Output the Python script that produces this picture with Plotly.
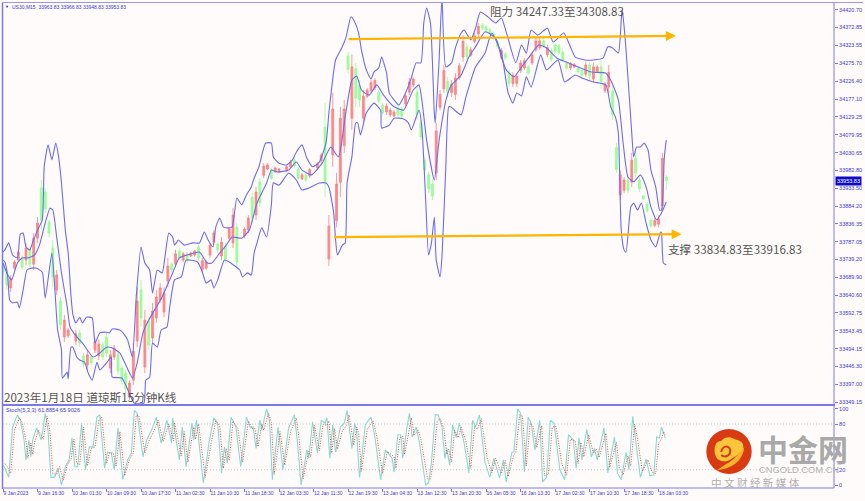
import plotly.graph_objects as go
from plotly.subplots import make_subplots

# ---- candles: bar number (15-minute bars since the first one), open/high/low/close
candle_bar = [0,4,8,12,16,20,24,28,32,36,40,44,48,52,56,60,64,68,76,80,84,88,92,96,100,104,108,112,116,120,124,128,132,136,140,144,148,152,156,160,164,168,172,176,180,184,188,192,196,200,204,208,212,216,220,224,228,232,236,240,244,252,256,260,264,268,272,276,280,284,288,296,300,304,308,312,316,320,328,332,336,340,344,348,352,356,360,364,368,372,376,380,384,388,392,396,400,404,408,412,416,420,424,428,432,436,440,444,448,452,456,460,464,468,472,476,480,484,488,492,496,500,504,508,512,516,520,524,528,532,536,540,544,548,552,556,560,564,568,572,576,580,584,588,592,596,600,604,608,612,616,620,624,628,632,636,640,644,648,652,656,660,664,668,672,676,680,684,688,692]
candle_open = [33726,33702,33661,33715,33737,33746,33737,33765,33726,33797,33934,33923,33841,33770,33655,33625,33527,33530,33516,33538,33475,33450,33472,33491,33475,33505,33527,33442,33472,33480,33442,33428,33363,33409,33516,33655,33445,33570,33524,33579,33628,33595,33680,33726,33726,33762,33737,33754,33748,33751,33773,33712,33715,33751,33786,33781,33748,33775,33797,33784,33827,33803,33819,33909,33860,33950,33969,33986,33984,33978,33978,33981,33992,34011,33986,33959,33970,33967,33989,34008,34100,33740,34025,33845,33950,34050,34295,34125,34260,34215,34125,34185,34200,34208,34196,34160,34142,34134,34131,34153,34150,34164,34196,34216,34196,34112,34010,33970,33945,33975,34155,34205,34225,34195,34190,34235,34292,34320,34297,34335,34355,34380,34374,34366,34355,34333,34290,34300,34248,34220,34220,34255,34262,34265,34276,34312,34318,34336,34298,34310,34325,34322,34305,34276,34262,34265,34262,34256,34245,34270,34232,34253,34265,34200,34210,34200,34045,33915,33928,33956,33950,34015,33956,33913,33890,33846,33832,33835,33885,33964]
candle_high = [33732,33710,33696,33737,33765,33751,33784,33773,33811,33855,33956,33934,33847,33792,33710,33636,33587,33551,33546,33546,33483,33491,33478,33524,33519,33513,33538,33491,33505,33491,33450,33437,33409,33510,33663,33683,33601,33581,33620,33655,33674,33663,33743,33732,33765,33770,33759,33759,33759,33765,33778,33743,33737,33784,33819,33786,33800,33784,33827,33879,33838,33827,33860,33920,33937,33961,34002,34002,33989,33992,33989,33997,34011,34019,33992,33975,33975,33989,34005,34030,34166,33860,34194,33975,34156,34175,34306,34298,34276,34229,34202,34207,34229,34235,34202,34166,34166,34153,34147,34161,34156,34194,34235,34238,34210,34120,34019,33978,33956,34112,34202,34270,34238,34229,34248,34276,34352,34330,34320,34358,34385,34385,34380,34371,34361,34339,34317,34306,34257,34251,34248,34284,34289,34270,34306,34344,34344,34344,34325,34317,34330,34330,34311,34279,34279,34276,34265,34262,34279,34279,34276,34270,34284,34224,34270,34216,34057,33983,33964,33964,34030,34030,33964,33915,33896,33852,33852,33860,34030,33970]
candle_low = [33696,33655,33650,33710,33732,33710,33724,33715,33710,33784,33819,33866,33800,33663,33642,33546,33513,33524,33505,33499,33445,33437,33450,33483,33464,33464,33472,33428,33464,33423,33396,33374,33355,33396,33499,33554,33428,33491,33510,33565,33620,33581,33663,33704,33718,33737,33732,33729,33746,33746,33737,33704,33710,33743,33778,33759,33737,33729,33792,33770,33718,33797,33811,33838,33847,33882,33961,33983,33956,33975,33975,33978,33989,33989,33956,33956,33951,33961,33983,34002,33909,33721,33992,33827,33909,34030,34248,34093,34156,34156,34112,34180,34196,34202,34166,34134,34134,34128,34128,34128,34125,34156,34188,34210,34120,34065,33975,33920,33901,33956,34147,34194,34183,34183,34175,34229,34279,34284,34292,34330,34347,34366,34361,34352,34339,34317,34284,34284,34210,34210,34210,34248,34257,34243,34270,34306,34311,34317,34292,34279,34303,34298,34279,34257,34257,34262,34248,34238,34238,34229,34221,34248,34207,34194,34194,34120,33975,33901,33920,33920,33937,33964,33923,33901,33866,33825,33827,33827,33874,33929]
candle_close = [33704,33669,33688,33732,33759,33718,33770,33726,33797,33838,33847,33877,33811,33691,33696,33560,33573,33546,33535,33510,33453,33478,33456,33516,33508,33472,33483,33478,33497,33434,33407,33385,33401,33488,33625,33579,33573,33505,33598,33636,33661,33647,33721,33710,33754,33743,33754,33735,33756,33762,33743,33735,33732,33778,33811,33765,33786,33740,33822,33860,33732,33822,33852,33852,33923,33893,33994,33997,33961,33989,33986,33992,34005,33995,33961,33970,33956,33984,34000,34024,33950,33830,34150,33945,34125,34150,34258,34265,34180,34175,34185,34202,34222,34228,34172,34140,34158,34147,34142,34134,34131,34186,34224,34232,34135,34074,33984,33932,33912,34090,34190,34255,34195,34218,34235,34268,34335,34292,34312,34350,34376,34370,34366,34356,34344,34322,34310,34290,34220,34242,34240,34276,34282,34248,34298,34336,34336,34322,34318,34286,34308,34305,34285,34262,34275,34272,34252,34243,34270,34240,34265,34265,34225,34216,34250,34135,33985,33970,33956,33928,34010,33975,33932,33904,33872,33830,33845,33850,34015,33954]

# ---- Bollinger bands
upper_bar = [0,2,6,10,15,18,21,24,28,31,36,41,43,47,51,55,58,61,65,68,71,73,76,80,83,87,93,96,101,108,111,114,122,127,130,135,139,144,148,153,156,161,166,169,173,177,179,183,189,198,205,210,214,219,222,226,230,234,239,244,249,254,259,262,267,274,280,282,288,296,302,306,312,317,323,330,337,340,343,347,354,358,363,367,371,374,379,384,387,392,395,400,403,408,413,420,426,431,436,439,442,446,450,451,455,458,462,468,472,478,481,488,493,498,506,514,520,525,535,541,546,551,558,568,574,585,592,597,607,616,626,631,636,642,645,646,649,652,656,658,661,665,669,673,676,681,685,687,690,692]
upper_val = [33759,33765,33784,33751,33743,33808,33811,33773,33765,33786,33819,33847,33992,34052,34011,34057,34019,33948,33819,33756,33636,33587,33565,33581,33565,33581,33579,33510,33538,33540,33538,33549,33546,33532,33519,33472,33636,33773,33729,33710,33647,33710,33702,33746,33811,33800,33778,33792,33778,33784,33784,33814,33792,33773,33827,33852,33827,33825,33827,33907,33888,33915,33937,33961,33992,34057,34057,34019,34002,33997,34011,34032,34052,34016,33992,34005,34057,34139,34210,34284,34320,34347,34402,34388,34358,34311,34257,34232,34251,34262,34292,34251,34194,34175,34161,34194,34235,34276,34276,34385,34426,34385,34139,34112,34284,34456,34265,34276,34317,34358,34366,34339,34371,34415,34402,34385,34399,34361,34276,34325,34303,34366,34352,34371,34333,34358,34320,34292,34284,34284,34289,34320,34317,34303,34393,34421,34347,34238,34084,34019,34046,34046,34057,34038,33983,33937,33874,33874,34019,34065]
middle_bar = [0,4,9,15,20,26,33,38,44,49,52,56,61,67,70,77,83,94,101,108,114,122,129,135,140,146,151,160,166,177,184,192,205,213,218,226,233,239,249,257,265,275,280,286,298,306,312,322,333,342,350,357,364,369,374,382,390,397,408,418,428,434,437,442,450,455,463,468,478,486,493,503,514,520,525,533,541,548,559,567,578,587,600,614,629,635,642,647,652,658,665,671,676,682,687,692]
middle_val = [33729,33702,33683,33729,33743,33743,33751,33778,33838,33879,33874,33800,33702,33609,33554,33527,33510,33472,33483,33499,33497,33483,33445,33415,33456,33538,33568,33609,33636,33702,33743,33751,33759,33729,33729,33756,33778,33800,33797,33819,33893,33948,33983,33978,33983,34005,33983,33970,34002,34046,34019,34128,34229,34240,34202,34188,34216,34188,34156,34147,34202,34216,34175,34065,33956,34065,34183,34216,34243,34292,34320,34361,34344,34292,34257,34238,34265,34289,34325,34317,34289,34279,34265,34251,34248,34224,34175,34057,33964,33951,33970,33937,33882,33847,33866,33896]
lower_bar = [0,2,5,7,10,15,17,21,25,30,35,41,44,51,54,57,61,62,67,68,71,73,77,80,85,89,93,98,101,108,113,114,124,129,137,147,149,153,156,161,165,171,174,179,186,191,203,208,212,217,220,224,231,236,247,250,255,259,262,265,270,275,280,282,288,298,306,312,319,330,337,340,345,347,349,354,357,359,364,368,370,373,379,387,394,395,403,408,418,423,426,434,437,441,444,447,450,452,456,458,462,465,467,478,483,493,503,507,510,520,527,532,536,541,546,551,561,567,579,586,597,604,616,629,634,639,642,645,648,650,655,658,662,666,671,676,681,686,687,689,692]
lower_val = [33737,33732,33691,33628,33620,33622,33606,33655,33710,33715,33715,33704,33633,33756,33663,33546,33491,33415,33431,33412,33499,33499,33472,33464,33458,33428,33409,33458,33437,33456,33472,33417,33415,33390,33346,33346,33409,33417,33510,33499,33546,33554,33609,33683,33691,33737,33732,33704,33674,33683,33661,33683,33737,33732,33710,33691,33702,33696,33756,33784,33825,33800,33888,33948,33942,33975,33956,33929,33934,33948,33948,33937,33866,33792,33751,33778,33784,33948,34019,34112,34112,34079,34139,34166,34147,34098,34106,34125,34123,34112,34093,34147,34101,33901,33751,33784,33855,33737,33691,33746,33992,34156,34156,34134,34183,34265,34303,34339,34358,34303,34194,34166,34194,34186,34238,34210,34298,34257,34284,34224,34243,34235,34224,34216,34156,34128,34084,33819,33765,33759,33882,33893,33874,33893,33838,33792,33773,33814,33811,33729,33724]

# ---- stochastic oscillator
stoch_bar = [0,2,6,10,15,18,22,24,27,29,31,35,40,44,47,50,54,57,61,65,69,72,75,78,82,86,90,94,98,101,106,109,113,116,120,125,130,134,137,140,146,150,155,160,165,171,176,177,184,187,191,197,199,202,209,215,220,224,228,231,234,238,243,248,254,258,261,264,268,270,275,278,281,287,292,298,304,307,311,315,317,319,323,328,332,336,338,341,344,347,352,356,359,364,367,369,372,378,384,388,394,399,406,408,412,415,417,421,424,427,431,434,441,444,447,451,454,458,461,463,466,469,473,476,481,486,490,493,497,503,508,512,518,522,525,531,533,537,540,544,548,551,555,560,563,567,571,575,581,586,590,595,598,601,604,609,614,617,620,627,631,638,641,645,650,653,657,660,665,671,675,679,682,685,687,691]
stoch_main = [26,22,10,76,92,85,59,33,59,37,59,75,59,94,72,10,10,22,0,24,33,62,24,24,81,20,50,50,89,92,22,43,42,20,75,7,33,42,98,94,37,59,72,89,55,85,55,88,33,76,24,81,59,85,3,56,88,81,16,50,29,89,76,24,89,75,76,48,85,72,100,85,7,76,20,75,92,59,0,29,46,35,83,42,85,81,88,35,79,43,76,81,98,48,81,69,10,79,89,63,7,46,35,17,66,66,35,72,94,63,76,59,0,3,29,92,92,76,35,48,26,79,62,81,56,16,85,76,92,29,10,35,9,33,4,43,43,100,94,17,89,81,46,85,4,10,85,81,20,7,66,59,22,62,33,73,37,48,33,75,16,63,16,7,43,20,90,59,10,34,12,13,63,62,76,61.8854]
signal_bar = [2,4,8,12,17,20,24,26,29,31,33,37,42,46,49,52,56,59,63,67,71,74,77,80,84,88,92,96,100,103,108,111,115,118,122,127,132,136,139,142,148,152,157,162,167,173,178,179,186,189,193,199,201,204,211,217,222,226,230,233,236,240,245,250,256,260,263,266,270,272,277,280,283,289,294,300,306,309,313,317,319,321,325,330,334,338,340,343,346,349,354,358,361,366,369,371,374,380,386,390,396,401,408,410,414,417,419,423,426,429,433,436,443,446,449,453,456,460,463,465,468,471,475,478,483,488,492,495,499,505,510,514,520,524,527,533,535,539,542,546,550,553,557,562,565,569,573,577,583,588,592,597,600,603,606,611,616,619,622,629,633,640,643,647,652,655,659,662,667,673,677,681,684,687,689,691]
stoch_signal = [28,25,15,72,88,82,58,35,55,40,56,72,60,90,70,15,14,24,6,26,34,60,28,27,76,25,48,50,85,89,28,42,42,25,70,12,34,42,92,90,42,57,70,85,57,80,58,82,38,70,30,76,60,80,10,54,84,78,22,48,32,84,74,30,84,74,74,50,80,72,94,82,14,70,26,70,88,60,8,30,44,37,78,45,80,78,84,42,74,47,71,77,92,52,76,68,18,73,84,64,15,44,37,22,62,64,40,67,88,65,72,60,8,8,30,84,87,74,40,47,30,72,62,76,57,22,77,73,87,36,16,35,15,32,11,40,42,92,90,25,81,77,49,78,12,14,76,77,28,13,60,58,28,56,37,66,42,47,36,68,23,56,23,13,38,25,80,60,18,33,17,15,55,60,70,65.9026]

# ---- axis labels
price_ticks = [34420.70,34372.85,34323.55,34275.70,34226.40,34177.10,34129.25,34079.95,34030.65,33982.80,33933.50,33884.20,33836.35,33787.05,33739.20,33689.90,33640.60,33592.75,33543.45,33494.15,33446.30,33397.00,33349.15]
stoch_ticks = [100,80,20,0]
stoch_levels = [80,20]
time_bar = [0,36,72,108,144,180,216,252,288,324,360,396,432,468,504,540,576,612,648,684]
time_labels = ["9 Jan 2023","9 Jan 16:30","10 Jan 01:30","10 Jan 09:30","10 Jan 17:30","11 Jan 02:30","11 Jan 10:30","11 Jan 18:30","12 Jan 03:30","12 Jan 11:30","12 Jan 19:30","13 Jan 04:30","13 Jan 12:30","13 Jan 20:30","16 Jan 05:30","16 Jan 13:30","17 Jan 02:30","17 Jan 10:30","17 Jan 18:30","18 Jan 03:30"]
resistance_bar = [359, 702]
resistance_price = [34341, 34350]
support_bar = [344, 708]
support_price = [33800, 33808]
last_price = 33953.83

W, H = 865, 501
L, R, T, B, SEP1, SEP2 = 3, 836, 3, 488, 404, 406
BLUE = "#6c6cf0"
FRAME = "#7a7ae6"
TXT = "#3a3ad8"
GRAY = "#555555"
BG = "#fffbfa"
CJK = "Noto Sans CJK SC"
SANS = "Liberation Sans"
ORANGE = "#ffb400"

def px(x):
    return (x - L) / (R - L)
def py(y):
    return (B - y) / (B - T)

fig = make_subplots(rows=2, cols=1, shared_xaxes=False, vertical_spacing=0)

fig.add_trace(go.Candlestick(
    x=candle_bar, open=candle_open, high=candle_high, low=candle_low, close=candle_close,
    increasing=dict(line=dict(color="#ff8080", width=0.8), fillcolor="#ff8a8a"),
    decreasing=dict(line=dict(color="#90ff90", width=0.8), fillcolor="#9cff9c"),
    whiskerwidth=0, showlegend=False, hoverinfo="skip"), row=1, col=1)

for bars, vals in ((upper_bar, upper_val), (middle_bar, middle_val), (lower_bar, lower_val)):
    fig.add_trace(go.Scatter(x=bars, y=vals, mode="lines",
                             line=dict(color=BLUE, width=1.1, shape="spline", smoothing=0.5),
                             showlegend=False, hoverinfo="skip"), row=1, col=1)

for lev in stoch_levels:
    fig.add_trace(go.Scatter(x=[0, 867], y=[lev, lev], mode="lines",
                             line=dict(color="#c9c9c9", width=1, dash="1px,2px"),
                             showlegend=False, hoverinfo="skip"), row=2, col=1)
fig.add_trace(go.Scatter(x=stoch_bar, y=stoch_main, mode="lines",
                         line=dict(color="#84dcd2", width=1.1), showlegend=False, hoverinfo="skip"), row=2, col=1)
fig.add_trace(go.Scatter(x=signal_bar, y=stoch_signal, mode="lines",
                         line=dict(color="#f04848", width=1, dash="1px,1.5px"), showlegend=False, hoverinfo="skip"), row=2, col=1)

xcommon = dict(range=[0, 867], showgrid=False, zeroline=False, showline=False, rangeslider=dict(visible=False))
fig.update_xaxes(**xcommon, domain=[0, 1], showticklabels=False, ticks="", row=1, col=1)
fig.update_xaxes(**xcommon, domain=[0, 1], tickmode="array", tickvals=time_bar, ticktext=time_labels,
                 ticks="outside", ticklen=3, tickwidth=1, tickcolor=FRAME,
                 ticklabelposition="outside right",
                 tickfont=dict(family=SANS, size=5, color=TXT), tickangle=0, row=2, col=1)
fig.update_yaxes(range=[33343.7, 34439.8], domain=[py(SEP1), 1], side="right",
                 tickmode="array", tickvals=price_ticks, ticktext=[f"{v:.2f}" for v in price_ticks],
                 ticks="outside", ticklen=3, tickcolor=FRAME, tickwidth=1,
                 tickfont=dict(family=SANS, size=5.5, color=TXT),
                 showgrid=False, zeroline=False, showline=False, row=1, col=1)
fig.update_yaxes(range=[-3.9, 103.6], domain=[0, py(SEP2)], side="right",
                 tickmode="array", tickvals=stoch_ticks, ticktext=[str(v) for v in stoch_ticks],
                 ticks="outside", ticklen=3, tickcolor=FRAME, tickwidth=1,
                 tickfont=dict(family=SANS, size=5.5, color=TXT),
                 showgrid=False, zeroline=False, showline=False, row=2, col=1)

def frame_line(x0, y0, x1, y1, width=1.0, color=FRAME):
    return dict(type="line", xref="paper", yref="paper", x0=px(x0), y0=py(y0), x1=px(x1), y1=py(y1),
                line=dict(color=color, width=width), layer="above")

def path_from(points, close=True):
    s = f"M {px(points[0][0]):.5f} {py(points[0][1]):.5f}"
    for i in range(1, len(points), 3):
        a, b, c = points[i:i+3]
        s += f" C {px(a[0]):.5f} {py(a[1]):.5f} {px(b[0]):.5f} {py(b[1]):.5f} {px(c[0]):.5f} {py(c[1]):.5f}"
    return s + (" Z" if close else "")

cloud = [(736,439),(732,436),(725,437),(723,441),(717,441),(715,448),(717,455),
         (719,462),(728,463),(733,459),(739,455),(746,452),(745,446),(745,441),(739,440),(736,439)]
tail = [(719,470),(733,469),(745,461),(746,447),(741,454),(734,461),(728,464),(725,466),(722,468),(719,470)]
curl = [(723,452),(724,445),(732,445),(732,451),(732,456),(726,458),(723,455)]

shapes = [
    frame_line(L-1, 2.5, 865, 2.5, 1.2, "#9a9ae0"),
    frame_line(2.5, T, 2.5, B+1, 1.5),
    frame_line(R, T, R, B, 1),
    frame_line(L, B, R, B, 1),
    frame_line(L, SEP1+0.5, R+1, SEP1+0.5, 1.2),
    frame_line(L, SEP2-0.5, R+1, SEP2-0.5, 1.2),
    dict(type="circle", xref="paper", yref="paper", x0=px(708), x1=px(753.5), y0=py(429), y1=py(474),
         fillcolor="#d93a12", line=dict(width=0), layer="above"),
    dict(type="path", xref="paper", yref="paper", path=path_from(cloud),
         fillcolor="#fbc53e", line=dict(width=0), layer="above"),
    dict(type="path", xref="paper", yref="paper", path=path_from(tail),
         fillcolor="#f7b32a", line=dict(width=0), layer="above"),
    dict(type="path", xref="paper", yref="paper", path=path_from(curl, close=False),
         line=dict(color="#d93a12", width=2), layer="above"),
]
fig.update_layout(shapes=shapes)

def note(text, x, y, size, color=GRAY, family=CJK, xanchor="left", **kw):
    fig.add_annotation(text=text, xref="paper", yref="paper", x=px(x), y=py(y), showarrow=False,
                       xanchor=xanchor, yanchor="middle", font=dict(family=family, size=size, color=color),
                       **kw)

note("阻力 34247.33至34308.83", 490, 11, 11.6, borderpad=0)
note("支撑 33834.83至33916.83", 669, 249, 11.6, borderpad=0)
note("2023年1月18日 道琼斯15分钟K线", 3, 397, 11.6, borderpad=0)
note("▼", 4, 7, 4, color="#2020c0", family=SANS, borderpad=0)
note("US30,M15  33963.83 33966.83 33948.83 33953.83", 11, 7, 5, color=TXT, family=SANS, borderpad=0)
note("Stoch(5,3,3) 61.8854 65.9026", 5, 410, 5.6, color=TXT, family=SANS, borderpad=0)
note(f"{last_price:.2f}", 837, 181, 5.5, color="#ffffff", family=SANS, bgcolor="#0a0ac8", borderpad=1)
note("<b>中金网</b>", 759, 447.5, 30, color="#a9a9a9", family=CJK, borderpad=0)
note("CNGOLD.COM.CN", 760, 470, 9.3, color="#b0b0b0", family="Liberation Sans", borderpad=0)
note("中 文 财 经 新 媒 体", 712, 482, 10.6, color="#b0b0b0", family=CJK, borderpad=0)

for bars, vals in ((resistance_bar, resistance_price), (support_bar, support_price)):
    fig.add_annotation(x=bars[1], y=vals[1], ax=bars[0], ay=vals[0], xref="x", yref="y",
                       axref="x", ayref="y", showarrow=True, arrowhead=2, arrowsize=0.9,
                       arrowwidth=2.2, arrowcolor=ORANGE, text="")

fig.update_layout(width=W, height=H, autosize=False, paper_bgcolor=BG, plot_bgcolor=BG,
                  margin=dict(l=L, r=W-R, t=T, b=H-B, pad=0), showlegend=False,
                  hovermode=False, dragmode=False)
fig.write_html("out.html", config=dict(displayModeBar=False),
               post_script="document.body.style.margin='0';document.body.style.background='#fffbfa';")
